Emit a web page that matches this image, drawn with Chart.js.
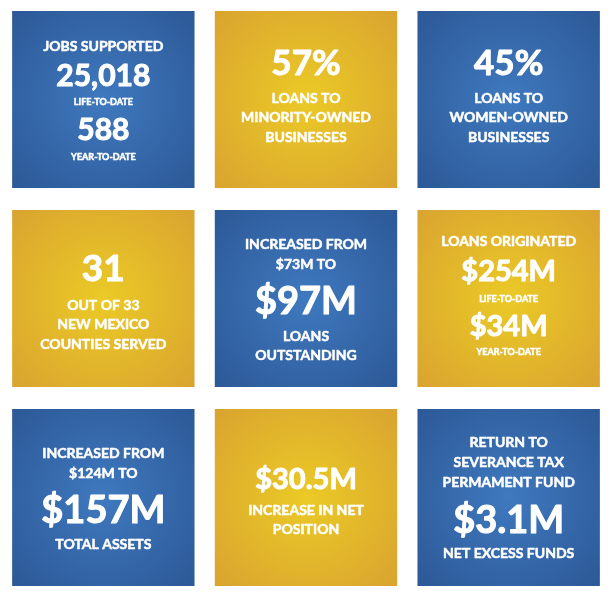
<!DOCTYPE html>
<html>
<head>
<meta charset="utf-8">
<script src="https://cdn.jsdelivr.net/npm/chart.js@4.4.0/dist/chart.umd.min.js"></script>
<style>
  body { margin: 0; background: #fff; }
  #wrap { width: 616px; height: 600px; }
</style>
</head>
<body>
<div id="wrap"><canvas id="tiles" width="616" height="600"></canvas></div>
<script>
// DATA - one entry per tile, read left to right, top to bottom
var columns = ["left", "middle", "right"];
var rows = ["row1", "row2", "row3"];

var tileText = [
  ["JOBS SUPPORTED", "25,018", "LIFE-TO-DATE", "588", "YEAR-TO-DATE"],
  ["57%", "LOANS TO", "MINORITY-OWNED", "BUSINESSES"],
  ["45%", "LOANS TO", "WOMEN-OWNED", "BUSINESSES"],
  ["31", "OUT OF 33", "NEW MEXICO", "COUNTIES SERVED"],
  ["INCREASED FROM", "$73M TO", "$97M", "LOANS", "OUTSTANDING"],
  ["LOANS ORIGINATED", "$254M", "LIFE-TO-DATE", "$34M", "YEAR-TO-DATE"],
  ["INCREASED FROM", "$124M TO", "$157M", "TOTAL ASSETS"],
  ["$30.5M", "INCREASE IN NET", "POSITION"],
  ["RETURN TO", "SEVERANCE TAX", "PERMAMENT FUND", "$3.1M", "NET EXCESS FUNDS"]
];

var tileTheme = ["blue", "gold", "blue", "gold", "blue", "gold", "blue", "gold", "blue"];

// LAYOUT - text line kinds and vertical offsets from tile centre
var lineKind = [
  ["head", "big", "small", "big", "small"],
  ["big", "head", "head", "head"],
  ["big", "head", "head", "head"],
  ["big", "head", "head", "head"],
  ["head", "head", "big", "head", "head"],
  ["head", "big", "small", "big", "small"],
  ["head", "head", "big", "head"],
  ["big", "head", "head"],
  ["head", "head", "head", "big", "head"]
];
var lineOffset = [
  [-53.5, -24.5, 2.5, 29.5, 57.5],
  [-37.5, -1.5, 17.5, 37.5],
  [-37.5, -1.5, 17.5, 37.5],
  [-30.5, 6.5, 25.5, 45.5],
  [-54.5, -34.5, 1.5, 37.5, 56.5],
  [-57.5, -27.5, 0.5, 27.5, 53.5],
  [-44.5, -24.5, 11.5, 46.5],
  [-18.5, 12.5, 31.5],
  [-55.5, -35.5, -15.5, 21.5, 55.5]
];
var bigSize = [30, 35, 35, 37, 38, 29, 38, 29, 38];
var headSize = 14;
var smallSize = 9;

var themes = {
  blue: { inner: "#3f79bf", outer: "#2c5896" },
  gold: { inner: "#ebca26", outer: "#d9a330" }
};

// each row gets a floating bar per column, with a small gap between rows
var gap = 0.055;
var datasets = rows.map(function (name, r) {
  return {
    label: name,
    data: columns.map(function () { return [r + gap, r + 1 - gap]; }),
    grouped: false,
    barPercentage: 0.9,
    categoryPercentage: 1,
    borderWidth: 0,
    backgroundColor: function (ctx) {
      var i = r * 3 + ctx.dataIndex;
      var th = themes[tileTheme[i]];
      var chart = ctx.chart;
      if (!chart.chartArea || ctx.type !== "data") return th.outer;
      var x = chart.scales.x.getPixelForValue(ctx.dataIndex);
      var y = chart.scales.y.getPixelForValue(r + 0.5);
      var g = chart.ctx.createRadialGradient(x, y, 0, x, y, 128);
      g.addColorStop(0, th.inner);
      g.addColorStop(1, th.outer);
      return g;
    }
  };
});

// TILE TEXT PLUGIN
var tileLabels = {
  id: "tileLabels",
  afterDatasetsDraw: function (chart) {
    var c = chart.ctx;
    c.save();
    c.fillStyle = "#ffffff";
    c.strokeStyle = "#ffffff";
    c.lineJoin = "round";
    c.textAlign = "center";
    c.textBaseline = "alphabetic";
    chart.data.datasets.forEach(function (ds, r) {
      chart.getDatasetMeta(r).data.forEach(function (bar, col) {
        var i = r * 3 + col;
        var cx = bar.x;
        var cy = (bar.y + bar.base) / 2;
        tileText[i].forEach(function (txt, k) {
          var kind = lineKind[i][k];
          var size = kind === "big" ? bigSize[i] : kind === "head" ? headSize : smallSize;
          var ty = cy + lineOffset[i][k] + size * 0.36;
          c.font = "bold " + size + "px Lato";
          c.lineWidth = kind === "big" ? 1 : 0.5;
          c.fillText(txt, cx, ty);
          c.strokeText(txt, cx, ty);
        });
      });
    });
    c.restore();
  }
};

new Chart(document.getElementById("tiles"), {
  type: "bar",
  data: { labels: columns, datasets: datasets },
  options: {
    responsive: false,
    animation: false,
    layout: { padding: { left: 2, right: 6, top: 0, bottom: 3 } },
    plugins: { legend: { display: false }, tooltip: { enabled: false } },
    scales: {
      x: { display: false },
      y: { display: false, min: 0, max: 3, reverse: true }
    }
  },
  plugins: [tileLabels]
});
</script>
</body>
</html>
